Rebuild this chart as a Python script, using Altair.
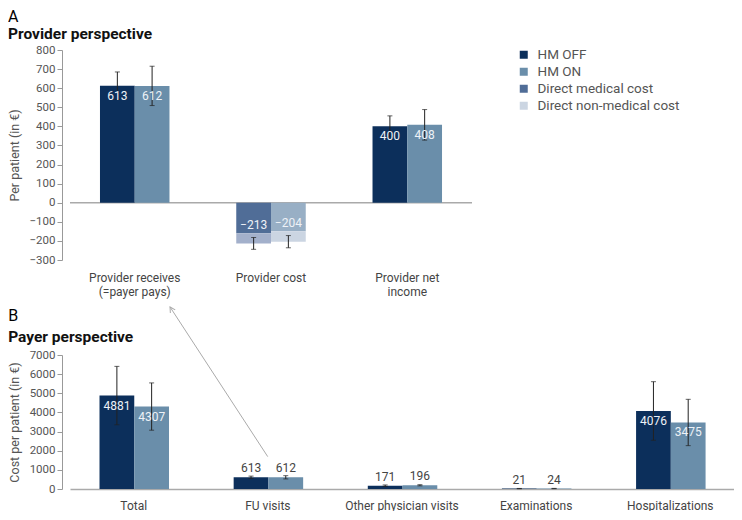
import altair as alt
import pandas as pd

FONT = "Roboto"

# ---------------- data ----------------
series = ["HM OFF", "HM ON"]

A_groups = ["Provider receives|(=payer pays)", "Provider cost", "Provider net|income"]
A_off = [613, -213, 400]
A_on = [612, -204, 408]
A_err_off = [72, 31, 55]
A_err_on = [103, 32, 80]
A_medical = {"HM OFF": -160, "HM ON": -150}   # direct medical part of provider cost

B_groups = ["Total", "FU visits", "Other physician visits", "Examinations", "Hospitalizations"]
B_off = [4881, 613, 171, 21, 4076]
B_on = [4307, 612, 196, 24, 3475]
B_err_off = [1525, 60, 40, 8, 1530]
B_err_on = [1235, 85, 30, 8, 1210]

color_keys = ["HM OFF", "HM ON", "Direct medical cost", "Direct non-medical cost",
              "HM ON medical", "HM OFF non-medical"]
color_vals = ["#0c2f5b", "#6a8eaa", "#506d97", "#cbd5e2", "#98afc5", "#a3b0cb"]

# arrow from "FU visits" (panel B) up to the "Provider receives" label, in panel-A units
arrow_x = [1.451, 0.734]      # group-step units of panel A
arrow_y = [-1330, -546]       # € units of panel A axis (below its plot area)

PI, PO = 0.49, 0.22
WA, HA = 402, 210
WB, HB = 664, 134

# ---------------- frames ----------------
segA, labA, errA = [], [], []
for i, g in enumerate(A_groups):
    for s, vals, errs in (("HM OFF", A_off, A_err_off), ("HM ON", A_on, A_err_on)):
        v = vals[i]
        if v < 0:
            med = A_medical[s]
            segA.append(dict(group=g, series=s, key="Direct medical cost" if s == "HM OFF" else "HM ON medical", y0=0, y1=med))
            segA.append(dict(group=g, series=s, key="HM OFF non-medical" if s == "HM OFF" else "Direct non-medical cost", y0=med, y1=v))
            labA.append(dict(group=g, series=s, value=v, ly=med, neg=1))
        else:
            segA.append(dict(group=g, series=s, key=s, y0=0, y1=v))
            labA.append(dict(group=g, series=s, value=v, ly=v, neg=0))
        errA.append(dict(group=g, series=s, lo=v - errs[i], hi=v + errs[i]))
segA, labA, errA = pd.DataFrame(segA), pd.DataFrame(labA), pd.DataFrame(errA)

rowsB = []
for i, g in enumerate(B_groups):
    for s, vals, errs in (("HM OFF", B_off, B_err_off), ("HM ON", B_on, B_err_on)):
        v = vals[i]
        rowsB.append(dict(group=g, series=s, value=v, lo=v - errs[i], hi=v + errs[i]))
dfB = pd.DataFrame(rowsB)
arrow_df = pd.DataFrame({"x1": [arrow_x[0]], "x2": [arrow_x[1]], "y1": [arrow_y[0]], "y2": [arrow_y[1]]})
head_df = pd.DataFrame({"x": [arrow_x[1]], "y": [arrow_y[1]]})

# ---------------- encodings ----------------
def xenc(groups, multiline=False):
    if multiline:
        ax = alt.Axis(title=None, labelAngle=0, ticks=False, domain=False, labelPadding=12,
                      labelFontSize=12, labelColor="#444", labelLineHeight=14,
                      labelExpr="split(datum.label, '|')")
    else:
        ax = alt.Axis(title=None, labelAngle=0, ticks=False, domain=True, labelPadding=11,
                      labelFontSize=12, labelColor="#444", domainColor="#aaa", domainWidth=1.5)
    return alt.X("group:N", sort=groups, scale=alt.Scale(paddingInner=PI, paddingOuter=PO), axis=ax)

xoff = alt.XOffset("series:N", sort=series, scale=alt.Scale(paddingInner=0, paddingOuter=0))

yA_scale = alt.Scale(domain=[-300, 800], nice=False)
yA_axis = alt.Axis(values=list(range(-300, 801, 100)), format="d", title="Per patient (in €)", offset=8,
                   grid=False, labelFontSize=11.5, titleFontSize=12.5, titlePadding=8)
yB_scale = alt.Scale(domain=[0, 7000], nice=False)
yB_axis = alt.Axis(values=list(range(0, 7001, 1000)), format="d", title="Cost per patient (in €)", offset=8,
                   grid=False, labelFontSize=11.5, titleFontSize=12.5, titlePadding=8)

def yA(f):
    return alt.Y(f, scale=yA_scale, axis=yA_axis)

def yB(f):
    return alt.Y(f, scale=yB_scale, axis=yB_axis)

colorA = alt.Color("key:N", scale=alt.Scale(domain=color_keys, range=color_vals),
                   legend=alt.Legend(title=None, values=color_keys[:4], orient="none", legendX=447, legendY=-2,
                                     symbolType="square", symbolSize=64, symbolStrokeWidth=0,
                                     labelFontSize=13.5, labelColor="#555", rowPadding=2, labelOffset=7))
colorB = alt.Color("series:N", scale=alt.Scale(domain=series, range=color_vals[:2]), legend=None)

# ---------------- panel A ----------------
xa = xenc(A_groups, multiline=True)
zeroA = alt.Chart(pd.DataFrame({"z": [0]})).mark_rule(color="#aaa", strokeWidth=1.5).encode(y=yA("z:Q"))
barsA = alt.Chart(segA).mark_bar().encode(x=xa, xOffset=xoff, y=yA("y1:Q"), y2="y0:Q", color=colorA)
errRA = alt.Chart(errA).mark_rule(color="#222", strokeWidth=1).encode(
    x=xa, xOffset=xoff, y=yA("lo:Q"), y2="hi:Q")
errTA = alt.Chart(errA).transform_fold(["lo", "hi"], as_=["end", "v"]).mark_tick(
    size=5, thickness=1, color="#222").encode(x=xa, xOffset=xoff, y=yA("v:Q"))
txtPosA = alt.Chart(labA).transform_filter("datum.neg == 0").mark_text(
    font=FONT, fontSize=12, color="#eef2f7", dy=10, baseline="middle").encode(
    x=xa, xOffset=xoff, y=yA("ly:Q"), text=alt.Text("value:Q", format="d"))
txtNegA = alt.Chart(labA).transform_filter("datum.neg == 1").mark_text(
    font=FONT, fontSize=12, color="#eef2f7", dy=-8, baseline="middle").encode(
    x=xa, xOffset=xoff, y=yA("ly:Q"), text=alt.Text("value:Q", format="d"))
innerA = alt.layer(zeroA, barsA, errRA, errTA, txtPosA, txtNegA)

ax_scale = alt.Scale(domain=[0, len(A_groups) - PI + 2 * PO], nice=False, zero=False)
arrowLine = alt.Chart(arrow_df).mark_rule(color="#aaa", strokeWidth=1).encode(
    x=alt.X("x1:Q", scale=ax_scale, axis=None), x2="x2:Q", y=yA("y1:Q"), y2="y2:Q")
arrowHead = alt.Chart(head_df).mark_point(
    shape="M-0.55,1L0,0L0.55,1", filled=False, stroke="#aaa", strokeWidth=1, size=110, angle=328, opacity=1).encode(
    x=alt.X("x:Q", scale=ax_scale, axis=None), y=yA("y:Q"))

panelA = alt.layer(innerA, alt.layer(arrowLine, arrowHead)).resolve_scale(x="independent").properties(
    width=WA, height=HA,
    title=alt.TitleParams("A", subtitle="Provider perspective", anchor="start", frame="bounds",
                          font=FONT, fontSize=16, fontWeight="normal", color="#000",
                          subtitleFont=FONT, subtitleFontSize=15.5, subtitleFontWeight="bold",
                          subtitleColor="#111", subtitlePadding=2, offset=2))

# ---------------- panel B ----------------
xb = xenc(B_groups)
barsB = alt.Chart(dfB).mark_bar().encode(x=xb, xOffset=xoff, y=yB("value:Q"), color=colorB)
errRB = alt.Chart(dfB).mark_rule(color="#222", strokeWidth=1).encode(
    x=xb, xOffset=xoff, y=yB("lo:Q"), y2="hi:Q")
errTB = alt.Chart(dfB).transform_fold(["lo", "hi"], as_=["end", "v"]).mark_tick(
    size=5, thickness=1, color="#222").encode(x=xb, xOffset=xoff, y=yB("v:Q"))
txtInB = alt.Chart(dfB).transform_filter("datum.value > 1000").mark_text(
    font=FONT, fontSize=12, color="#eef2f7", dy=10, baseline="middle").encode(
    x=xb, xOffset=xoff, y=yB("value:Q"), text=alt.Text("value:Q", format="d"))
txtOutB = alt.Chart(dfB).transform_filter("datum.value <= 1000").mark_text(
    font=FONT, fontSize=12, color="#444", dy=-9, baseline="middle").encode(
    x=xb, xOffset=xoff, y=yB("value:Q"), text=alt.Text("value:Q", format="d"))

panelB = alt.layer(barsB, errRB, errTB, txtInB, txtOutB).properties(
    width=WB, height=HB,
    title=alt.TitleParams("B", subtitle="Payer perspective", anchor="start", frame="bounds",
                          font=FONT, fontSize=16, fontWeight="normal", color="#000",
                          subtitleFont=FONT, subtitleFontSize=15.5, subtitleFontWeight="bold",
                          subtitleColor="#111", subtitlePadding=6, offset=4))

chart = alt.vconcat(panelA, panelB, spacing=95, bounds="flush").resolve_scale(color="independent").properties(
    padding=0
).configure_view(stroke=None).configure_axis(
    labelFont=FONT, titleFont=FONT, labelColor="#555", titleColor="#555",
    domainColor="#999", tickColor="#999", titleFontWeight="normal", tickSize=5
).configure_legend(labelFont=FONT)

chart.save("out.html", embed_options={"renderer": "svg", "actions": False})
